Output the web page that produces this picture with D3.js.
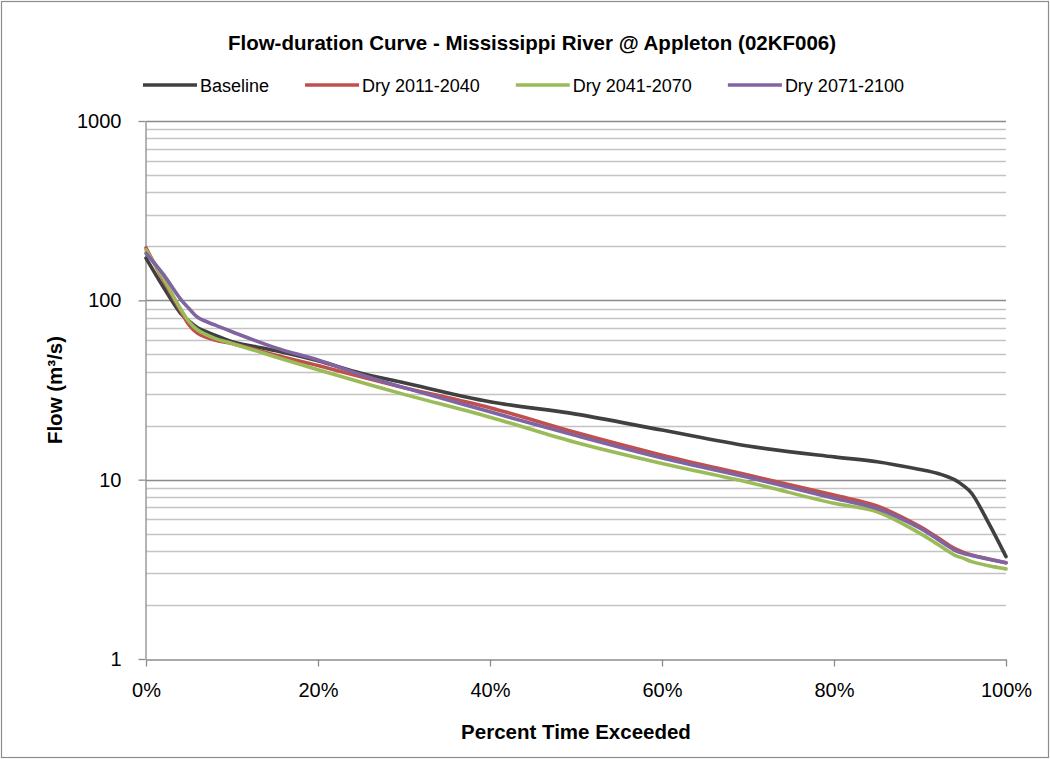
<!doctype html>
<html>
  <head>
    <meta charset="utf-8">
    <title>Flow-duration Curve</title>
    <script src="https://cdn.jsdelivr.net/npm/d3@7"></script>
    <style>
      html, body { margin:0; padding:0; overflow:hidden; background:#fff }
      svg { display:block; font-family:"Liberation Sans", Arial, sans-serif }
      .grid line { stroke:#c3c3c3; stroke-width:1.3 }
      .grid line.major { stroke:#8c8c8c }
      .axis path, .axis line { stroke:#8c8c8c; stroke-width:1.3 }
      .axis text { font-size:20px; fill:#000 }
      .series { fill:none; stroke-width:3.6; stroke-linejoin:round; stroke-linecap:round }
    </style>
  </head>
  <body>
    <div id="chart"></div>
    <script>
      var W = 1050, H = 759;

      // percent time exceeded
      var pct = [0, 2, 4, 5, 6, 8, 10, 15, 20, 25, 30, 40, 50, 60, 70, 80, 85, 90, 92, 94, 95, 96, 98, 100];

      // flow, m3/s
      var baseline = [172, 119, 85, 76.7, 70.2, 64, 58.8, 52.5, 46, 39.2, 34.7, 27.2, 23.2, 18.9, 15.4, 13.4, 12.6, 11.4, 10.85, 10.0, 9.3, 8.4, 5.7, 3.72];
      var dry2011 = [196, 130, 88, 73, 65.5, 60, 57.5, 49.5, 43.3, 37.5, 32.6, 25.2, 18.3, 13.7, 10.6, 8.2, 7.13, 5.47, 4.77, 4.14, 3.94, 3.8, 3.61, 3.44];
      var dry2041 = [191, 133, 90, 76, 68.3, 61.4, 57.5, 48.5, 41, 34.9, 29.9, 22.3, 16.1, 12.3, 9.67, 7.38, 6.63, 5.02, 4.38, 3.8, 3.65, 3.49, 3.31, 3.18];
      var dry2071 = [183, 140, 102, 90, 80.4, 72.9, 66.8, 54.5, 46.5, 38.5, 32.6, 23.9, 17.6, 13.2, 10.3, 7.87, 6.9, 5.36, 4.67, 4.05, 3.88, 3.78, 3.6, 3.44];

      var seriesNames = ["Baseline", "Dry 2011-2040", "Dry 2041-2070", "Dry 2071-2100"];
      var seriesColors = ["#404040", "#c0504d", "#9bbb59", "#8064a2"];
      var seriesValues = [baseline, dry2011, dry2041, dry2071];

      var xTicks = [0, 20, 40, 60, 80, 100];
      var yTicks = [1, 10, 100, 1000];

      var margin = {top: 121, right: 44, bottom: 100, left: 146};

      var svg = d3.select("#chart").append("svg")
        .attr("width", W).attr("height", H);

      svg.append("rect")
        .attr("x", 1.5).attr("y", 1.5)
        .attr("width", W - 3).attr("height", H - 3)
        .attr("fill", "#fff").attr("stroke", "#8c8c8c").attr("stroke-width", 1.2);

      var x = d3.scaleLinear().domain([0, 100]).range([margin.left, W - margin.right]);
      var y = d3.scaleLog().domain([1, 1000]).range([H - margin.bottom, margin.top]);

      // gridlines
      var grid = svg.append("g").attr("class", "grid");
      grid.selectAll("line")
        .data(y.ticks().filter(function(d) { return d > 1; }))
        .enter().append("line")
        .attr("class", function(d) { return yTicks.indexOf(d) >= 0 ? "major" : null; })
        .attr("x1", x(0)).attr("x2", x(100))
        .attr("y1", function(d) { return Math.round(y(d)) + 0.5; })
        .attr("y2", function(d) { return Math.round(y(d)) + 0.5; });

      // axes
      svg.append("g").attr("class", "axis")
        .attr("transform", "translate(0," + (Math.round(y(1)) + 0.5) + ")")
        .call(d3.axisBottom(x).tickValues(xTicks).tickSize(7).tickSizeOuter(0).tickPadding(16)
          .tickFormat(function(d) { return d + "%"; }));

      svg.append("g").attr("class", "axis")
        .attr("transform", "translate(" + (x(0) - 0.5) + ",0)")
        .call(d3.axisLeft(y).tickValues(yTicks).tickSize(7).tickSizeOuter(0).tickPadding(17)
          .tickFormat(d3.format("d")));

      svg.selectAll(".axis text").attr("font-family", "Liberation Sans, Arial, sans-serif");

      // curves (smoothed like the spreadsheet's lines)
      var line = d3.line()
        .x(function(d) { return x(d[0]); })
        .y(function(d) { return y(d[1]); })
        .curve(d3.curveCatmullRom.alpha(0.5));

      svg.append("g").selectAll("path")
        .data(seriesValues)
        .enter().append("path")
        .attr("class", "series")
        .attr("stroke", function(d, i) { return seriesColors[i]; })
        .attr("d", function(vals) { return line(pct.map(function(p, j) { return [p, vals[j]]; })); });

      // title
      svg.append("text")
        .attr("x", 532).attr("y", 50)
        .attr("text-anchor", "middle")
        .attr("font-size", 20.5).attr("font-weight", "bold")
        .text("Flow-duration Curve - Mississippi River @ Appleton (02KF006)");

      // axis titles
      svg.append("text")
        .attr("x", (x(0) + x(100)) / 2).attr("y", 739)
        .attr("text-anchor", "middle")
        .attr("font-size", 20.5).attr("font-weight", "bold")
        .text("Percent Time Exceeded");

      svg.append("text")
        .attr("transform", "translate(62," + ((y(1) + y(1000)) / 2) + ") rotate(-90)")
        .attr("text-anchor", "middle")
        .attr("font-size", 20.5).attr("font-weight", "bold")
        .text("Flow (m³/s)");

      // legend
      var legend = svg.append("g").attr("transform", "translate(143,85)");
      var lx = 0;
      seriesNames.forEach(function(name, i) {
        var item = legend.append("g").attr("transform", "translate(" + lx + ",0)");
        item.append("line")
          .attr("x1", 0).attr("x2", 54).attr("y1", 0).attr("y2", 0)
          .attr("stroke", seriesColors[i]).attr("stroke-width", 3.6);
        var t = item.append("text")
          .attr("x", 57).attr("y", 6.5)
          .attr("font-size", 18)
          .text(name);
        lx += 57 + t.node().getComputedTextLength() + 36;
      });
    </script>
  </body>
</html>
